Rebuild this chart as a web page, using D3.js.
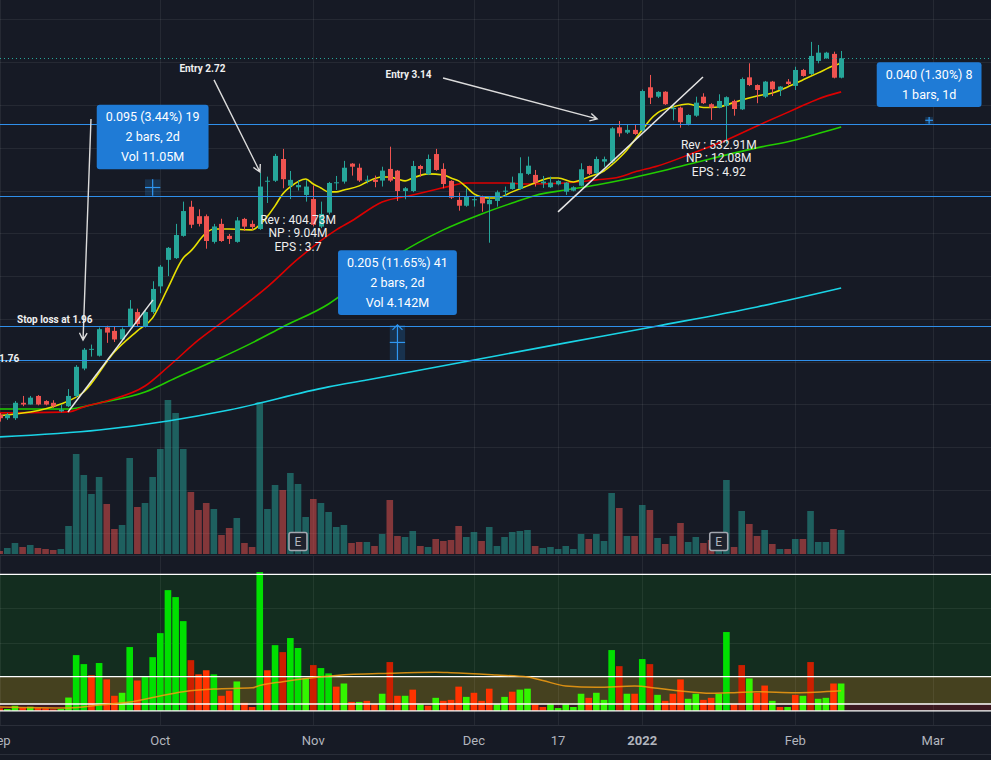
<!DOCTYPE html>
<html><head><meta charset="utf-8">
<script src="https://cdn.jsdelivr.net/npm/d3@7"></script>
<style>html,body{margin:0;padding:0;background:#161a25;overflow:hidden}</style>
</head><body><svg id="c" width="991" height="760"></svg>
<script>
// ---------- DATA ----------
const openP = [1.44,1.42,1.42,1.51,1.50,1.55,1.52,1.51,1.46,1.49,
 1.55,1.71,1.82,1.785,1.95,1.93,1.88,1.955,2.04,1.955,
 2.04,2.19,2.345,2.355,2.485,2.655,2.60,2.60,2.45,2.555,
 2.485,2.45,2.584,2.555,2.525,2.802,2.807,2.934,2.778,2.769,
 2.724,2.70,2.539,2.621,2.792,2.802,2.907,2.883,2.808,2.813,
 2.808,2.876,2.866,2.747,2.747,2.893,2.845,2.963,2.876,2.806,
 2.695,2.661,2.695,2.714,2.670,2.689,2.743,2.759,2.759,2.847,
 2.841,2.792,2.769,2.786,2.743,2.749,2.778,2.893,2.851,2.919,
 2.919,3.119,3.088,3.104,3.10,3.353,3.298,3.327,3.225,3.234,
 3.139,3.187,3.298,3.254,3.234,3.244,3.273,3.224,3.411,3.366,
 3.298,3.386,3.337,3.386,3.361,3.454,3.431,3.507,3.522,3.548,
 3.409];
const highP = [1.45,1.45,1.52,1.55,1.55,1.555,1.525,1.525,1.50,1.59,
 1.73,1.83,1.85,1.95,1.96,1.955,1.95,2.11,2.06,2.05,
 2.22,2.315,2.42,2.555,2.685,2.69,2.64,2.61,2.555,2.585,
 2.496,2.595,2.59,2.575,2.854,2.831,2.964,2.993,2.864,2.81,
 2.81,2.78,2.685,2.80,2.835,2.923,2.91,2.907,2.837,2.837,
 2.889,3.006,2.87,2.77,2.923,2.90,2.96,2.993,2.909,2.81,
 2.737,2.763,2.72,2.72,2.714,2.75,2.773,2.831,2.944,2.948,
 2.870,2.835,2.831,2.81,2.80,2.775,2.909,2.895,2.948,2.948,
 3.12,3.156,3.133,3.133,3.34,3.425,3.33,3.33,3.25,3.24,
 3.195,3.298,3.318,3.26,3.312,3.30,3.28,3.41,3.493,3.37,
 3.39,3.39,3.36,3.401,3.473,3.46,3.618,3.600,3.56,3.561,
 3.565];
const lowP = [1.40,1.41,1.41,1.49,1.50,1.495,1.495,1.48,1.455,1.485,
 1.54,1.70,1.78,1.78,1.86,1.865,1.875,1.95,1.955,1.95,
 2.03,2.15,2.25,2.35,2.48,2.53,2.54,2.41,2.44,2.45,
 2.438,2.445,2.514,2.52,2.52,2.677,2.80,2.763,2.70,2.75,
 2.685,2.54,2.53,2.61,2.753,2.79,2.837,2.80,2.792,2.769,
 2.773,2.80,2.689,2.699,2.74,2.831,2.84,2.865,2.763,2.70,
 2.632,2.655,2.656,2.626,2.445,2.656,2.714,2.755,2.755,2.84,
 2.773,2.765,2.765,2.78,2.724,2.745,2.775,2.84,2.845,2.889,
 2.91,3.064,3.08,3.075,3.095,3.255,3.29,3.25,3.16,3.117,
 3.13,3.18,3.255,3.162,3.23,3.026,3.187,3.22,3.36,3.26,
 3.29,3.302,3.302,3.365,3.337,3.415,3.425,3.493,3.52,3.405,
 3.405];
const closeP = [1.42,1.44,1.51,1.50,1.54,1.50,1.50,1.49,1.47,1.55,
 1.72,1.82,1.825,1.94,1.92,1.88,1.94,2.06,1.97,2.04,
 2.175,2.305,2.415,2.49,2.63,2.55,2.555,2.455,2.54,2.455,
 2.467,2.575,2.539,2.537,2.773,2.807,2.952,2.816,2.812,2.782,
 2.773,2.55,2.613,2.794,2.798,2.883,2.889,2.808,2.813,2.80,
 2.866,2.808,2.747,2.763,2.893,2.876,2.934,2.870,2.788,2.708,
 2.661,2.714,2.699,2.675,2.695,2.740,2.749,2.796,2.851,2.895,
 2.796,2.802,2.796,2.806,2.796,2.769,2.874,2.847,2.934,2.933,
 3.113,3.084,3.104,3.080,3.331,3.292,3.326,3.254,3.232,3.149,
 3.191,3.263,3.260,3.234,3.273,3.295,3.226,3.401,3.366,3.337,
 3.386,3.341,3.357,3.372,3.454,3.419,3.536,3.555,3.555,3.409,
 3.522];
// volume, millions
const volumeM = [0.15,0.30,0.55,0.35,0.45,0.30,0.25,0.20,0.25,1.40,
 5.00,3.95,3.00,3.85,2.50,1.25,1.45,4.80,2.35,2.55,
 3.85,5.25,7.70,7.05,5.25,3.10,2.20,2.55,2.25,0.95,
 1.30,1.80,0.55,0.35,7.60,2.25,3.45,3.20,4.05,3.50,
 1.85,2.75,2.55,2.10,1.35,1.45,0.55,0.60,0.60,0.40,
 1.00,2.70,0.90,0.85,1.15,0.40,0.35,0.75,0.65,0.70,
 1.40,0.85,1.10,0.65,1.35,0.40,0.85,1.10,1.15,1.20,
 0.40,0.30,0.35,0.25,0.40,0.25,1.00,0.75,1.00,0.65,
 3.05,2.30,0.90,0.90,2.45,2.20,0.80,0.50,0.90,1.55,
 0.60,0.85,0.55,0.70,0.35,3.70,0.35,2.15,1.50,0.90,
 1.20,0.50,0.25,0.25,0.75,0.75,2.15,0.60,0.60,1.25,
 1.20];
// moving averages: [bar index], [value]
const maYellowIdx = [0,8,11,15,18,20,22,24,25,27,28,30,33,34,36,37,38,40,41,42,43,44,45,47,48,50,51,52,53,54,56,58,59,60,61,62,63,64,65,67,69,71,72,73,75,76,77,79,80,81,82,83,84,85,86,88,90,92,94,95,97,99,101,103,105,107,109,110];
const maYellowVal = [1.435,1.503,1.573,1.807,1.930,2.006,2.181,2.356,2.397,2.502,2.525,2.525,2.520,2.549,2.660,2.730,2.771,2.817,2.788,2.765,2.742,2.742,2.753,2.777,2.800,2.829,2.829,2.817,2.806,2.823,2.847,2.841,2.823,2.806,2.771,2.730,2.712,2.706,2.706,2.742,2.777,2.812,2.823,2.823,2.800,2.812,2.829,2.864,2.899,2.940,2.987,3.045,3.104,3.162,3.203,3.238,3.255,3.235,3.238,3.250,3.279,3.302,3.320,3.355,3.396,3.437,3.478,3.495];
const maRedIdx = [0,9,11,14,19,22,26,30,35,39,44,46,50,54,57,59,61,64,66,69,74,78,81,83,86,91,95,99,104,107,110];
const maRedVal = [1.451,1.457,1.486,1.521,1.608,1.719,1.877,2.011,2.187,2.350,2.520,2.572,2.683,2.724,2.756,2.777,2.794,2.794,2.794,2.788,2.794,2.812,2.829,2.858,2.893,2.975,3.045,3.127,3.226,3.285,3.326];
const maGreenIdx = [0,9,13,19,23,28,33,37,43,47,52,58,63,67,70,74,78,82,86,91,95,99,104,107,110];
const maGreenVal = [1.474,1.474,1.509,1.573,1.655,1.754,1.860,1.953,2.087,2.216,2.374,2.520,2.613,2.677,2.721,2.753,2.782,2.817,2.858,2.914,2.958,2.999,3.045,3.083,3.121];
const maCyanIdx = [0,13,22,30,43,48,62,74,86,99,110];
const maCyanVal = [1.311,1.351,1.404,1.468,1.603,1.643,1.760,1.860,1.959,2.070,2.181];
// lower pane (relative volume) and its direction
const relVol = [0.18,0.13,0.37,0.22,0.30,0.20,0.18,0.10,0.13,0.97,
 4.08,3.42,2.60,3.50,2.30,1.10,1.32,4.67,2.22,2.52,
 3.93,5.69,8.84,8.33,6.57,3.71,2.67,2.97,2.67,1.10,
 1.47,2.15,0.58,0.28,10.16,2.97,4.81,4.30,5.33,4.60,
 2.37,3.35,3.13,2.74,1.77,2.00,0.65,0.65,0.73,0.48,
 1.25,3.57,1.10,1.10,1.55,0.48,0.37,0.95,0.73,0.80,
 1.77,1.02,1.32,0.73,1.62,0.48,1.02,1.40,1.55,1.62,
 0.48,0.28,0.48,0.20,0.48,0.28,1.25,0.95,1.32,0.80,
 4.45,3.27,1.25,1.25,3.79,3.42,1.17,0.73,1.25,2.30,
 0.88,1.25,0.80,0.95,1.25,5.77,0.48,3.35,2.37,1.32,
 1.85,0.73,0.28,0.28,1.17,1.10,3.57,0.88,0.95,2.00,
 2.00];
const relDir = "duududdduu"+"uududduudu"+"uuuuudddud"+"duddududuu"+"uduudududd"+"uddudududd"+"duddduuduu"+"dduuuuuduu"+"ududududdd"+"uudduuddud"+"dudududuud"+"u";
const relMaIdx = [0,9,13,17,20,24,26,28,33,34,37,40,44,51,57,59,65,69,71,74,78,83,86,89,93,96,99,104,110];
const relMaVal = [0.28,0.21,0.42,0.64,0.97,1.40,1.52,1.60,1.68,1.85,2.13,2.36,2.59,2.75,2.82,2.79,2.62,2.48,2.22,1.82,1.72,1.82,1.65,1.45,1.28,1.33,1.40,1.33,1.47];
const relLevels = [0, 0.5, 2.5, 10];
// time axis
const tickIdx = [0,21,41,62,73,84,104,122];
const tickLabels = ["Sep","Oct","Nov","Dec","17","2022","Feb","Mar"];
const priceGrid = [0.75,1.0,1.25,1.5,1.75,2.0,2.25,2.5,2.75,3.0,3.25,3.5,3.75];
const hLines = [3.14, 2.72, 1.96, 1.76];
const earningsIdx = [39, 94];
const earningsText = [["Rev : 404.73M","NP : 9.04M","EPS : 3.7"],["Rev : 532.91M","NP : 12.08M","EPS : 4.92"]];
const earningsTextPrice = [2.577, 3.016];

// ---------- SCALES ----------
const svg = d3.select("#c");
const W = 991, H = 760;
const x = d3.scaleLinear().domain([0,110]).range([-0.35, 841.15]);
const y = d3.scaleLinear().domain([0.75,3.75]).range([532.9,19.3]);
const vy = d3.scaleLinear().domain([0,10]).range([554,354]);
const ry = d3.scaleLinear().domain([0,10]).range([710.8,574.3]);
const UP = "#26a69a", DN = "#ef5350";
const FONT = "'Trebuchet MS', Roboto, 'DejaVu Sans', sans-serif";
const crisp = v => Math.round(v)+0.5;

svg.append("rect").attr("width",W).attr("height",H).attr("fill","#161a25");

// lower pane fills
const bandCols = ["#3b1820","#45411f","#132d1f"];
for (let k=0;k<3;k++){
  svg.append("rect").attr("x",0).attr("width",W)
    .attr("y",ry(relLevels[k+1])).attr("height",ry(relLevels[k])-ry(relLevels[k+1]))
    .attr("fill",bandCols[k]);
}
// grid
const gridC = "rgba(255,255,255,0.065)";
const g = svg.append("g");
priceGrid.forEach(p=>g.append("line").attr("x1",0).attr("x2",W).attr("y1",crisp(y(p))).attr("y2",crisp(y(p))).attr("stroke",gridC));
[5,7.5].forEach(v=>g.append("line").attr("x1",0).attr("x2",W).attr("y1",crisp(ry(v))).attr("y2",crisp(ry(v))).attr("stroke",gridC));
tickIdx.forEach(t=>{
  const xx = crisp(x(t));
  g.append("line").attr("x1",xx).attr("x2",xx).attr("y1",0).attr("y2",554).attr("stroke",gridC);
  g.append("line").attr("x1",xx).attr("x2",xx).attr("y1",556).attr("y2",725).attr("stroke",gridC);
});
// separators
[555.5,725.5,754.5].forEach(yy=>svg.append("line").attr("x1",0).attr("x2",W).attr("y1",yy).attr("y2",yy).attr("stroke","#2a2e39"));

// volume
const idx = d3.range(openP.length);
svg.append("g").selectAll("rect").data(idx).join("rect")
  .attr("x",i=>x(i)-3.3).attr("width",6.6)
  .attr("y",i=>vy(volumeM[i])).attr("height",i=>vy(0)-vy(volumeM[i]))
  .attr("fill",i=>closeP[i]>=openP[i]?UP:DN).attr("fill-opacity",0.5);

// MAs
function maLine(ix, vals, col, w){
  const pts = ix.map((d,k)=>[x(d), y(vals[k])]);
  svg.append("path").attr("d", d3.line().curve(d3.curveMonotoneX)(pts))
    .attr("fill","none").attr("stroke",col).attr("stroke-width",w);
}
maLine(maCyanIdx, maCyanVal, "#1ad4e6", 1.6);
maLine(maGreenIdx, maGreenVal, "#22cc00", 1.6);
maLine(maRedIdx, maRedVal, "#dd0000", 1.6);
maLine(maYellowIdx, maYellowVal, "#e8e000", 1.6);

// candles
const cg = svg.append("g");
idx.forEach(i=>{
  const col = closeP[i]>=openP[i]?UP:DN;
  const xc = crisp(x(i));
  cg.append("line").attr("x1",xc).attr("x2",xc).attr("y1",y(highP[i])).attr("y2",y(lowP[i])).attr("stroke",col).attr("stroke-width",1);
  const t = y(Math.max(openP[i],closeP[i])), b = y(Math.min(openP[i],closeP[i]));
  cg.append("rect").attr("x",xc-2.5).attr("width",5).attr("y",t).attr("height",Math.max(1,b-t)).attr("fill",col);
});

// horizontal lines
hLines.forEach(p=>svg.append("line").attr("x1",0).attr("x2",W).attr("y1",crisp(y(p))).attr("y2",crisp(y(p))).attr("stroke","#2f8fea").attr("stroke-width",1));
// last price dotted
const lp = crisp(y(closeP[closeP.length-1]));
svg.append("line").attr("x1",0).attr("x2",W).attr("y1",lp).attr("y2",lp)
  .attr("stroke",UP).attr("stroke-dasharray","1,3").attr("stroke-width",1.2);

// trend lines
const trends = [[8.93,1.456,20.05,2.111],[72.99,2.625,91.94,3.413]];
trends.forEach(t=>svg.append("line").attr("x1",x(t[0])).attr("y1",y(t[1])).attr("x2",x(t[2])).attr("y2",y(t[3])).attr("stroke","#e6e6e6").attr("stroke-width",1.5));

// arrows
function arrow(i1,p1,i2,p2){
  const x1=x(i1),y1=y(p1),x2=x(i2),y2=y(p2);
  const a=Math.atan2(y2-y1,x2-x1), L=8, s=0.5;
  svg.append("path").attr("d",`M${x1},${y1}L${x2},${y2}M${x2-L*Math.cos(a-s)},${y2-L*Math.sin(a-s)}L${x2},${y2}L${x2-L*Math.cos(a+s)},${y2-L*Math.sin(a+s)}`)
    .attr("fill","none").attr("stroke","#dcdcdc").attr("stroke-width",1.4);
}
arrow(11.94,3.168,10.9,1.877);
arrow(28.02,3.396,34.03,2.858);
arrow(57.96,3.407,78.1,3.168);

function label(txt, xx, yy, anchor, size, weight){
  svg.append("text").attr("x",xx).attr("y",yy).attr("text-anchor",anchor||"middle").attr("dominant-baseline","central")
    .attr("fill","#f0f0f0").attr("font-family",FONT).attr("font-size",size||10).attr("font-weight",weight||"bold").text(txt);
}
label("Entry 2.72", x(26.5), y(3.460), "middle", 10, "bold");
label("Entry 3.14", x(53.45), y(3.425), "middle", 10, "bold");
label("Stop loss at 1.96", x(2.27), y(1.997), "start", 10, "bold");
label("1.76", -1, y(1.76)-1, "start", 10, "bold");

// earnings texts
earningsIdx.forEach((ei,k)=>{
  earningsText[k].forEach((t,j)=>{
    svg.append("text").attr("x",x(ei)).attr("y",y(earningsTextPrice[k])+j*13.3).attr("text-anchor","middle").attr("dominant-baseline","central")
      .attr("fill","#eeeeee").attr("font-family",FONT).attr("font-size",12).text(t);
  });
});

// measure tools
function measure(i0,i1,p0,p1,lines){
  const xl=x(i0), xr=x(i1), yt=y(p1), yb=y(p0), xm=(xl+xr)/2, ym=(yt+yb)/2;
  svg.append("rect").attr("x",xl).attr("y",yt).attr("width",xr-xl).attr("height",yb-yt).attr("fill","#2196f3").attr("fill-opacity",0.2);
  svg.append("line").attr("x1",xl).attr("x2",xr).attr("y1",ym).attr("y2",ym).attr("stroke","#2f96f0").attr("stroke-width",1.2);
  svg.append("line").attr("x1",xm).attr("x2",xm).attr("y1",yt).attr("y2",yb).attr("stroke","#2f96f0").attr("stroke-width",1.2);
  if (yb-yt>20) svg.append("path").attr("d",`M${xm-5},${yt+5}L${xm},${yt}L${xm+5},${yt+5}`).attr("fill","none").attr("stroke","#2f96f0").attr("stroke-width",1.2);
  const bg = svg.append("g");
  const box = bg.append("rect").attr("fill","#1f7bd6").attr("rx",3);
  const bh = 20*lines.length+4.7, top = yt-10-bh;
  let mw = 0;
  lines.forEach((t,j)=>{
    const tx = bg.append("text").attr("x",xm).attr("y",top+12+20*j).attr("text-anchor","middle").attr("dominant-baseline","central")
      .attr("fill","#ffffff").attr("font-family",FONT).attr("font-size",12.5).text(t);
    mw = Math.max(mw, tx.node().getComputedTextLength());
  });
  const bw = mw+18;
  box.attr("x",xm-bw/2).attr("y",top).attr("width",bw).attr("height",bh);
}
measure(19,21,2.72,2.815,["0.095 (3.44%) 19","2 bars, 2d","Vol 11.05M"]);
measure(51,53,1.76,1.965,["0.205 (11.65%) 41","2 bars, 2d","Vol 4.142M"]);
measure(121,122,3.14,3.18,["0.040 (1.30%) 8","1 bars, 1d"]);

// E markers
earningsIdx.forEach(ei=>{
  const xc = x(ei);
  svg.append("rect").attr("x",xc-9).attr("y",532.5).attr("width",18).attr("height",18).attr("rx",2)
    .attr("fill","#1e222d").attr("stroke","#a3a6af").attr("stroke-width",1.6);
  svg.append("text").attr("x",xc).attr("y",542).attr("text-anchor","middle").attr("dominant-baseline","central")
    .attr("fill","#b2b5be").attr("font-family",FONT).attr("font-size",12).text("E");
});

// lower pane bars
function relColor(i){
  const v = relVol[i];
  if (relDir[i]==="u") return v>=2.5 ? "#00e000" : "#33f500";
  return v>=3.0 ? "#cc1f00" : "#ff3300";
}
svg.append("g").selectAll("rect").data(idx).join("rect")
  .attr("x",i=>x(i)-3.3).attr("width",6.6)
  .attr("y",i=>ry(relVol[i])).attr("height",i=>ry(0)-ry(relVol[i]))
  .attr("fill",relColor);
relLevels.forEach(v=>svg.append("line").attr("x1",0).attr("x2",W).attr("y1",ry(v)).attr("y2",ry(v)).attr("stroke","#ffffff").attr("stroke-width",1.3));
svg.append("path").attr("d", d3.line().curve(d3.curveMonotoneX)(relMaIdx.map((d,k)=>[x(d), ry(relMaVal[k])])))
  .attr("fill","none").attr("stroke","#f39c12").attr("stroke-width",1.5).attr("stroke-opacity",0.85);

// time axis labels
tickIdx.forEach((t,k)=>{
  svg.append("text").attr("x",x(t)).attr("y",740).attr("text-anchor","middle").attr("dominant-baseline","central")
    .attr("fill","#b2b5be").attr("font-family",FONT).attr("font-size",13)
    .attr("font-weight", tickLabels[k]==="2022"?"bold":"normal").text(tickLabels[k]);
});
</script></body></html>
